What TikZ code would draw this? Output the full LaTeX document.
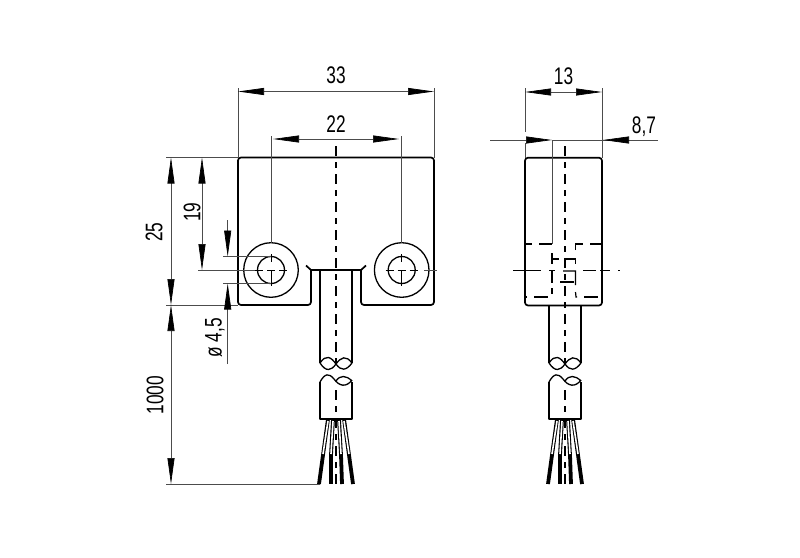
\documentclass[tikz,border=0pt]{standalone}
\usepackage{fontspec}
\setmainfont{Liberation Sans}
\usetikzlibrary{arrows.meta}
\newcommand{\dimlbl}[1]{\scalebox{.72}[1]{#1}}
\tikzset{
  part/.style={line width=1.7pt,line join=round},
  thinline/.style={line width=0.7pt,black!70},
  midline/.style={line width=1.2pt,dash pattern=on 10pt off 6pt on 6pt off 6pt},
  hidden/.style={line width=1.2pt},
  dimboth/.style={thinline,{Triangle[length=26pt,width=7pt,black]}-{Triangle[length=26pt,width=7pt,black]}},
  dimend/.style={thinline,-{Triangle[length=26pt,width=7pt,black]}},
  dimtext/.style={font=\fontsize{24}{24}\selectfont,inner sep=0pt},
  dimtextv/.style={font=\fontsize{24}{24}\selectfont,rotate=90,inner sep=0pt},
}
\begin{document}
\begin{tikzpicture}[x=1pt,y=-1pt]
\useasboundingbox (0,0) rectangle (800,557);
% front view
\draw[part,rounded corners=3pt] (311,270)--(311,305)--(238,305)--(238,157.5)--(434,157.5)--(434,305)--(361,305)--(361,270);
\draw[part] (306,265.5)--(311,270)--(361,270)--(366,265.5);
\draw[part] (320,270)--(320,306) (352,270)--(352,306);
\draw[line width=1.3pt] (271,270) circle (27.3);
\draw[line width=1.3pt] (271,270) circle (13.5);
\draw[line width=1.3pt] (401.7,270) circle (27.3);
\draw[line width=1.3pt] (401.7,270) circle (13.5);
\foreach \cx in {271,401.7}{
  \draw[line width=1pt] (\cx-16,270)--(\cx-8,270) (\cx-4,270)--(\cx+4,270) (\cx+8,270)--(\cx+16,270);
  \draw[line width=1pt] (\cx,278)--(\cx,270) (\cx,254)--(\cx,262) (\cx,278)--(\cx,286);
}
\draw[thinline] (271,136)--(271,243);
\draw[thinline] (401.7,136)--(401.7,243);
\draw[thinline] (424,270)--(437,270);
\draw[midline] (336,146)--(336,363);
% side view
\draw[part,rounded corners=3pt] (525,157.7) rectangle (602,305.5);
\draw[thinline] (552,140)--(552,244);
\draw[hidden] (525,244)--(532,244) (539,244)--(552,244);
\draw[hidden] (575.5,250)--(575.5,244)--(583,244) (590,244)--(602,244);
\draw[hidden] (552,253)--(552,264) (552,270)--(552,283) (552,288)--(552,294);
\draw[hidden] (552,259)--(559,259) (566,259)--(575.5,259)--(575.5,264);
\draw[hidden] (563,271)--(575.5,271)--(575.5,285) (575.5,292)--(576,297)--(577,297);
\draw[hidden] (560,282)--(574,282);
\draw[hidden] (526,297)--(527,297) (534,297)--(548,297) (584,297)--(598,297);
\draw[hidden] (513,270.7)--(541,270.7) (549,270.7)--(555,270.7) (583,270.7)--(596,270.7) (600,270.7)--(610,270.7) (618,270.7)--(620,270.7);
\draw[midline] (565,146)--(565,366);
% cable, break and wires of both views
\foreach \cx in {336,565}{
  \begin{scope}[shift={(\cx,0)}]
  \draw[part] (-16,306)--(-16,363) (16,306)--(16,363);
  \draw[line width=1.3pt] (-16,363) .. controls (-10,354) and (-5,357) .. (0,364) .. controls (5,371) and (10,371) .. (16,363);
  \draw[line width=1.3pt] (-16,363) .. controls (-10,372) and (-5,371) .. (0,364) .. controls (5,357) and (10,355) .. (16,363);
  \draw[part] (-16,382)--(-16,419)--(16,419)--(16,382);
  \draw[line width=1.3pt] (-16,382) .. controls (-11,373) and (-7,373) .. (-2,379) .. controls (3,386) and (10,388) .. (16,380);
  \draw[line width=1.3pt] (0,381) .. controls (4,375) and (10,375) .. (16,381);
  \foreach \wa/\wb/\wc in {-8/-13/-17,-3/-5/-5,3/5/6,8/13/17}{
    \draw[line width=3.8pt] (\wb,455)--(\wc,484);
    \draw[line width=3.8pt] (\wa,419)--(\wb,455);
    \draw[line width=1.6pt,white] (\wa,421)--(\wb,454);
  }
  \draw[line width=1.2pt,dash pattern=on 10pt off 6pt on 6pt off 6pt] (0,390)--(0,484);
  \end{scope}
}
% dimensions front view
\draw[thinline] (238,88)--(238,157.5);
\draw[thinline] (434,88)--(434,157.5);
\draw[dimboth] (238,91.5)--(434,91.5);
\draw[dimboth] (273,139)--(399,139);
\node[dimtext] (lblA) at (336,75) {\dimlbl{33}};
\node[dimtext] (lblB) at (336,124) {\dimlbl{22}};
\draw[thinline] (166,157.5)--(238,157.5);
\draw[thinline] (166,305)--(238,305);
\draw[thinline] (198,270)--(255,270);
\draw[thinline] (223,256.5)--(271,256.5);
\draw[thinline] (223,283.5)--(271,283.5);
\draw[thinline] (166,484)--(320,484);
\draw[dimboth] (171,157.5)--(171,305);
\draw[dimboth] (171,305)--(171,484);
\draw[dimboth] (202,157.5)--(202,270);
\draw[dimend] (227.7,220)--(227.7,256.5);
\draw[dimend] (227.7,364)--(227.7,283.5);
\node[dimtextv] (lblC) at (154,232) {\dimlbl{25}};
\node[dimtextv] (lblD) at (192,212) {\dimlbl{19}};
\node[dimtextv] (lblE) at (155,395) {\dimlbl{1000}};
\node[dimtextv] (lblF) at (215,338) {\dimlbl{ø 4,5}};
% dimensions side view
\draw[thinline] (525,88)--(525,132);
\draw[thinline] (525,143)--(525,157.7);
\draw[thinline] (602,88)--(602,157.7);
\draw[dimboth] (525,92)--(602,92);
\node[dimtext] (lblG) at (563.5,76) {\dimlbl{13}};
\draw[thinline] (490,140)--(525,140);
\draw[thinline] (552,140)--(658,140);
\draw[dimend] (525,140)--(552,140);
\draw[dimend] (628,140)--(603,140);
\node[dimtext] (lblH) at (644,127) {\dimlbl{8,7}};
\end{tikzpicture}
\end{document}
